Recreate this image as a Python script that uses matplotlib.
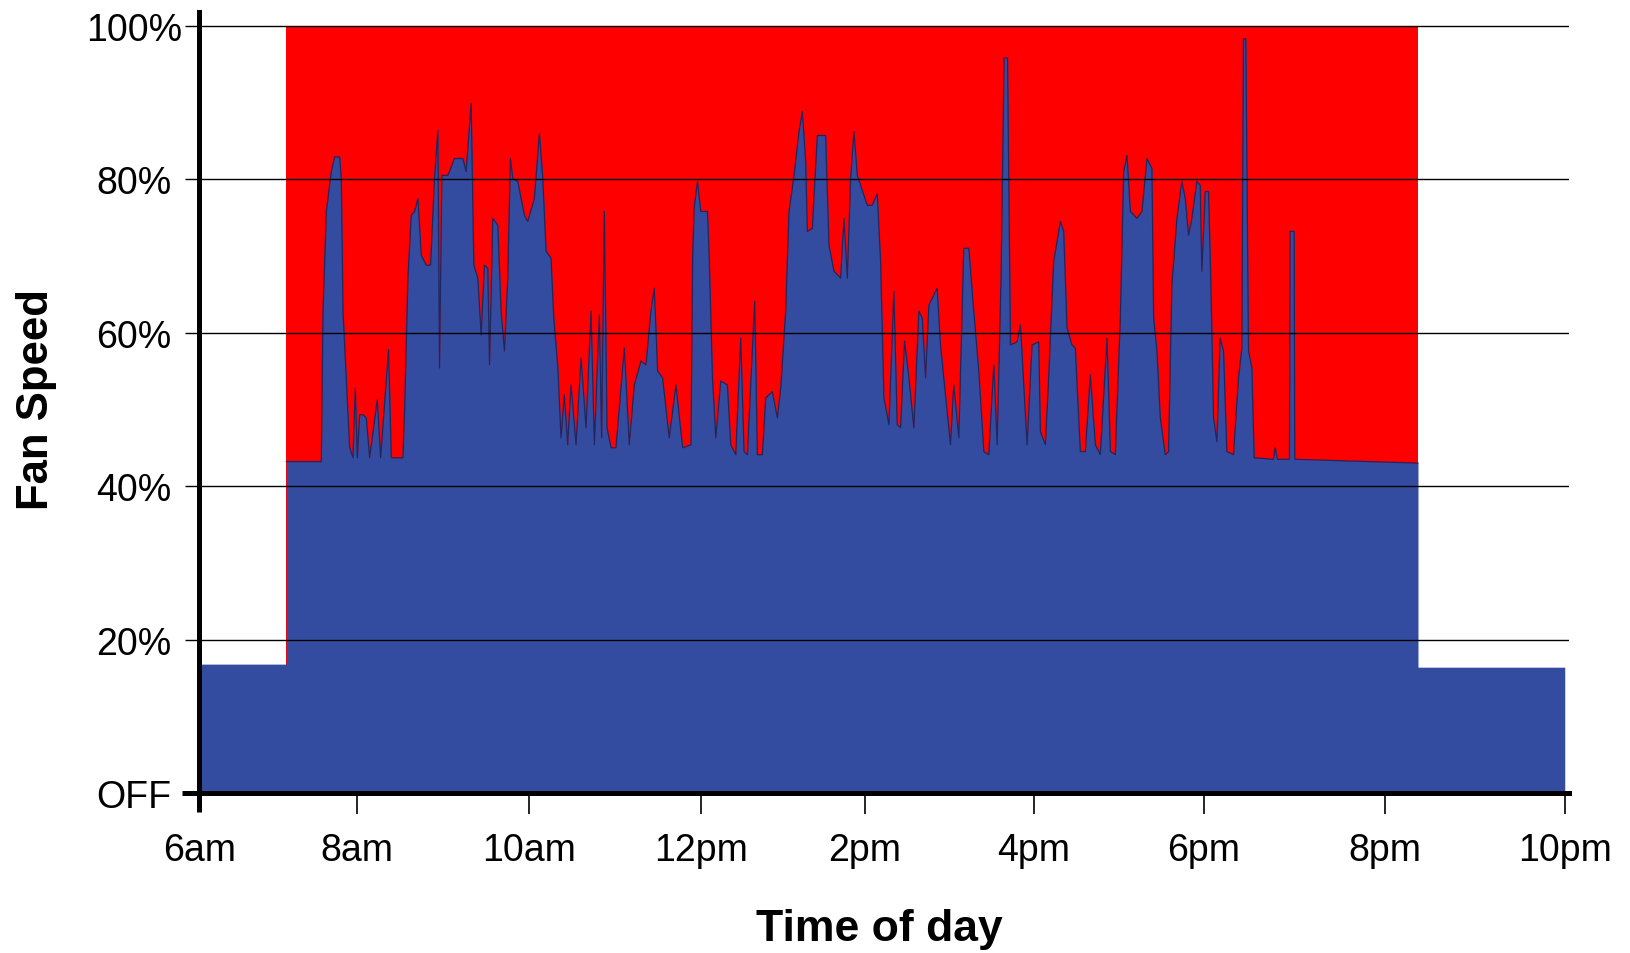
import numpy as np
import matplotlib
matplotlib.use("Agg")
import matplotlib.pyplot as plt

plt.rcParams['font.family'] = ['Liberation Sans', 'DejaVu Sans']

# fan speed trace (position along the day axis, % speed)
hours = [
    6.0, 7.018, 7.018, 7.428, 7.448, 7.487, 7.545, 7.584, 7.643, 7.662,
    7.682, 7.760, 7.799, 7.826, 7.850, 7.877, 7.916, 7.955, 7.994, 8.084,
    8.123, 8.216, 8.248, 8.384, 8.404, 8.443, 8.482, 8.521, 8.560, 8.599,
    8.657, 8.708, 8.755, 8.794, 8.813, 8.841, 8.911, 8.989, 9.086, 9.125,
    9.184, 9.215, 9.262, 9.301, 9.340, 9.379, 9.399, 9.438, 9.496, 9.535,
    9.574, 9.613, 9.644, 9.672, 9.730, 9.808, 9.847, 9.925, 9.984, 10.023,
    10.062, 10.120, 10.152, 10.198, 10.237, 10.276, 10.315, 10.354, 10.413, 10.472,
    10.530, 10.589, 10.628, 10.686, 10.713, 10.745, 10.776, 10.823, 10.881, 10.979,
    11.037, 11.096, 11.174, 11.232, 11.291, 11.330, 11.369, 11.427, 11.505, 11.584,
    11.662, 11.760, 11.780, 11.797, 11.836, 11.875, 11.953, 11.973, 12.012, 12.051,
    12.109, 12.187, 12.226, 12.285, 12.343, 12.382, 12.421, 12.507, 12.538, 12.597,
    12.636, 12.714, 12.772, 12.812, 12.870, 12.909, 12.968, 13.026, 13.065, 13.104,
    13.124, 13.182, 13.241, 13.338, 13.377, 13.436, 13.514, 13.553, 13.592, 13.631,
    13.670, 13.709, 13.787, 13.826, 13.884, 13.943, 13.982, 14.021, 14.080, 14.138,
    14.177, 14.216, 14.263, 14.314, 14.372, 14.431, 14.470, 14.509, 14.548, 14.645,
    14.684, 14.723, 14.762, 14.801, 14.840, 14.899, 14.957, 15.016, 15.074, 15.133,
    15.192, 15.250, 15.309, 15.348, 15.394, 15.430, 15.470, 15.504, 15.582, 15.621,
    15.660, 15.699, 15.757, 15.835, 15.855, 15.913, 15.952, 16.011, 16.089, 16.128,
    16.167, 16.225, 16.264, 16.323, 16.382, 16.440, 16.499, 16.557, 16.636, 16.675,
    16.733, 16.792, 16.831, 16.870, 16.909, 16.987, 17.045, 17.104, 17.162, 17.182,
    17.221, 17.260, 17.318, 17.357, 17.396, 17.455, 17.513, 17.552, 17.591, 17.630,
    17.689, 17.728, 17.747, 17.787, 17.826, 17.853, 17.884, 17.923, 17.962, 18.001,
    18.040, 18.118, 18.177, 18.216, 18.235, 18.262, 18.294, 18.333, 18.360, 18.586,
    18.606, 18.633, 18.774, 18.781, 18.828, 18.836, 20.28, 20.28, 22.0,
]
speed = [
    16.8, 16.8, 43.2, 43.2, 62.8, 75.8, 81.0, 82.9, 82.9, 80.1,
    62.8, 45.0, 43.7, 52.8, 43.7, 49.3, 49.3, 48.9, 43.7, 51.3,
    43.7, 57.8, 43.7, 43.7, 49.8, 67.1, 75.3, 75.8, 77.5, 70.1,
    68.8, 68.8, 80.1, 86.4, 55.4, 80.5, 80.5, 82.7, 82.7, 81.0,
    89.9, 68.8, 67.1, 59.7, 68.8, 68.4, 55.8, 74.9, 74.0, 62.8,
    57.6, 67.1, 82.7, 80.1, 79.7, 75.3, 74.5, 77.5, 86.0, 80.1,
    70.6, 69.7, 61.9, 55.8, 46.3, 51.9, 45.4, 53.2, 45.4, 56.7,
    47.6, 62.8, 45.4, 62.3, 46.3, 75.8, 47.6, 45.0, 45.0, 58.0,
    45.4, 53.2, 56.3, 55.8, 62.8, 65.8, 55.0, 54.1, 46.3, 53.2,
    45.0, 45.4, 70.0, 76.2, 79.7, 75.8, 75.8, 70.0, 54.1, 46.3,
    53.7, 53.2, 45.4, 44.1, 59.3, 44.5, 44.1, 64.1, 44.1, 44.1,
    51.5, 52.3, 48.9, 52.8, 62.8, 75.8, 80.5, 86.2, 88.8, 82.3,
    73.2, 73.6, 85.7, 85.7, 71.4, 68.0, 67.1, 74.9, 67.1, 80.1,
    86.2, 80.5, 77.9, 76.6, 76.6, 78.1, 69.3, 51.5, 48.0, 65.4,
    48.0, 47.6, 58.9, 54.1, 47.6, 62.8, 61.9, 54.1, 63.6, 65.8,
    58.4, 54.1, 49.8, 45.4, 53.2, 46.3, 71.0, 71.0, 62.8, 55.0,
    44.5, 44.1, 55.8, 45.4, 67.1, 95.8, 95.8, 58.4, 58.8, 61.0,
    53.2, 45.4, 58.4, 58.8, 47.1, 45.4, 54.1, 69.3, 74.5, 73.2,
    60.6, 58.4, 58.0, 44.5, 44.5, 54.5, 45.4, 44.1, 59.3, 44.5,
    44.1, 61.9, 81.0, 83.1, 75.8, 74.9, 75.8, 82.7, 81.4, 61.9,
    57.6, 48.9, 44.1, 44.5, 66.2, 74.9, 79.7, 77.5, 72.7, 74.9,
    79.7, 79.2, 68.0, 78.4, 78.4, 66.2, 48.9, 45.8, 59.3, 57.6,
    44.5, 44.1, 54.1, 58.0, 98.3, 98.3, 57.6, 55.4, 43.7, 43.5,
    45.0, 43.5, 43.5, 73.2, 73.2, 43.5, 43.0, 16.4, 16.4,
]

# occupied period (red band)
band_start, band_end = 7.018, 20.28
band_top = 100

# the original's hour labels are not evenly spaced; these are where they sit
tick_pos = [6.0, 7.846, 9.862, 11.877, 13.799, 15.780, 17.773, 19.894, 22.0]
tick_labels = ['6am', '8am', '10am', '12pm', '2pm', '4pm', '6pm', '8pm', '10pm']
speed_ticks = [0, 20, 40, 60, 80, 100]
speed_labels = ['OFF', '20%', '40%', '60%', '80%', '100%']

BLUE = '#344ca0'
RED = '#ff0000'

fig = plt.figure(figsize=(16.31, 9.54), dpi=100)
ax = fig.add_axes([0.1223, 0.1677, 0.8397, 0.8187])

ax.fill_between([band_start, band_end], 0, band_top, color=RED, lw=0, zorder=0.5)
ax.fill_between(hours, 0, speed, color=BLUE, lw=0, zorder=0.6)

h = np.array(hours)
s = np.array(speed)
edge = (h >= band_start) & (h <= band_end) & (s > 30)
ax.plot(h[edge], s[edge], color='#1f2660', lw=0.9, zorder=0.7)

ax.set_xlim(6, 22.05)
ax.set_ylim(0, 101.8)
ax.set_xticks(tick_pos)
ax.set_xticklabels(tick_labels)
ax.set_yticks(speed_ticks)
ax.set_yticklabels(speed_labels)

ax.set_axisbelow(False)
ax.grid(axis='y', color='black', lw=1.0)
ax.grid(axis='x', visible=False)

for side in ['top', 'right']:
    ax.spines[side].set_visible(False)
for side in ['left', 'bottom']:
    ax.spines[side].set_linewidth(3.6)

ax.tick_params(axis='y', length=10, width=1, pad=37, labelsize=27)
ax.tick_params(axis='x', length=15, width=1.2, pad=13, labelsize=27)
for lab in ax.get_yticklabels():
    lab.set_horizontalalignment('center')
yt = ax.yaxis.get_major_ticks()
yt[0].tick1line.set_markeredgewidth(3.6)
yt[0].tick1line.set_markersize(12)
xt = ax.xaxis.get_major_ticks()
xt[0].tick1line.set_markeredgewidth(3.6)
xt[0].tick1line.set_markersize(14)

fig.text(37 / 1631, 1 - 400 / 954, 'Fan Speed', rotation=90, ha='center', va='center',
         fontsize=31.5, fontweight='bold')
fig.text(879 / 1631, 1 - 930 / 954, 'Time of day', ha='center', va='center',
         fontsize=32, fontweight='bold')

fig.savefig('out.png', dpi=100, facecolor='white')
